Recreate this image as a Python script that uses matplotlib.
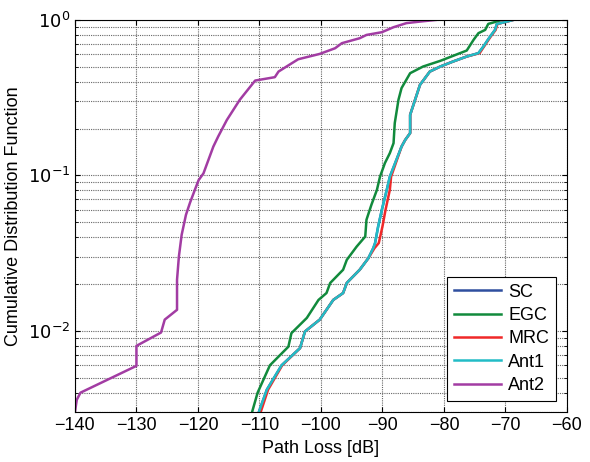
import matplotlib.pyplot as plt
import numpy as np

plt.rcParams['font.family'] = ['Liberation Sans', 'DejaVu Sans']

# Values (path loss in dB, CDF)
ant2_x = [-140.0, -139.7, -139.1, -130.0, -130.0, -126.0, -125.4, -123.4, -123.4,
          -123.1, -122.65, -121.95, -121.3, -120.5, -119.9, -119.1, -117.5, -116.7,
          -115.3, -113.2, -110.7, -107.5, -106.9, -105.6, -103.7, -100.2, -97.7,
          -96.6, -93.7, -92.6, -90.1, -88.2, -86.1, -83.9, -81.2]
ant2_y = [0.003, 0.0036, 0.0040, 0.00595, 0.0080, 0.00975, 0.0118, 0.01365, 0.0213,
          0.030, 0.0414, 0.0557, 0.0665, 0.0807, 0.093, 0.103, 0.153, 0.178,
          0.227, 0.306, 0.407, 0.428, 0.465, 0.501, 0.558, 0.604, 0.657,
          0.708, 0.762, 0.80, 0.833, 0.897, 0.953, 0.975, 1.0]

egc_x = [-111.2, -110.3, -108.3, -105.3, -104.8, -102.3, -100.4, -99.1, -98.5,
         -96.4, -95.8, -94.2, -92.8, -92.6, -91.8, -90.9, -90.4, -89.6, -88.8,
         -88.2, -88.0, -87.4, -86.9, -85.5, -83.4, -80.6, -76.3, -75.2, -74.4,
         -73.3, -72.8, -72.0, -70.6]
egc_y = [0.003, 0.0040, 0.0060, 0.0079, 0.00966, 0.0121, 0.0158, 0.0175, 0.0203,
         0.0247, 0.0286, 0.0348, 0.0404, 0.0518, 0.0646, 0.0807, 0.098, 0.120, 0.139,
         0.161, 0.217, 0.306, 0.364, 0.454, 0.501, 0.545, 0.635, 0.743, 0.821,
         0.862, 0.942, 0.961, 1.0]

ant1_x = [-110.1, -108.8, -106.4, -103.4, -102.6, -100.2, -98.0, -96.4, -95.8,
          -95.3, -93.7, -92.3, -91.5, -91.2, -90.7, -90.1, -89.3, -88.8, -86.9,
          -86.3, -85.5, -85.5, -84.7, -83.9, -82.3, -80.6, -78.5, -76.3, -74.4,
          -73.6, -72.5, -71.7, -71.4, -70.4, -68.7]
ant1_y = [0.003, 0.00418, 0.0060, 0.00774, 0.0099, 0.0118, 0.0158, 0.0175, 0.0203,
          0.0213, 0.0247, 0.0293, 0.034, 0.0367, 0.0469, 0.060, 0.0807, 0.098, 0.153,
          0.169, 0.187, 0.245, 0.306, 0.382, 0.465, 0.501, 0.540, 0.581, 0.611,
          0.673, 0.781, 0.862, 0.942, 0.961, 1.0]

mrc_x = [-109.8, -108.6, -106.3, -103.4, -102.6, -100.2, -98.0, -96.4, -95.8,
         -95.3, -93.7, -92.3, -91.3, -90.6, -90.0, -89.5, -88.8, -88.6, -86.9,
         -86.3, -85.5, -85.5, -84.7, -83.9, -82.3, -80.6, -78.5, -76.3, -74.2,
         -73.5, -72.4, -71.6, -71.3, -70.4, -68.7]
mrc_y = ant1_y

sc_x = ant1_x
sc_y = ant1_y

fig = plt.figure(figsize=(5.9, 4.62), dpi=100)
ax = fig.add_axes([0.127, 0.108, 0.834, 0.849])

ax.plot(sc_x, sc_y, color='#2f4f9f', lw=1.8, label='SC')
ax.plot(egc_x, egc_y, color='#118a3c', lw=1.8, label='EGC')
ax.plot(mrc_x, mrc_y, color='#f02828', lw=1.8, label='MRC')
ax.plot(ant1_x, ant1_y, color='#22bcc6', lw=1.8, label='Ant1')
ax.plot(ant2_x, ant2_y, color='#a23ca3', lw=1.8, label='Ant2')

ax.set_yscale('log')
ax.set_xlim(-140, -60)
ax.set_ylim(0.003, 1)
ax.set_xticks(np.arange(-140, -59, 10))
ax.set_yticks([1e-2, 1e-1, 1e0])
ax.set_yticklabels(['$10^{-2}$', '$10^{-1}$', '$10^{0}$'])

# matlab-like grid: vertical at majors, horizontal at every log tick
ax.grid(True, which='major', color='0.4', linestyle=(0, (1, 1)), lw=0.8)
ax.grid(True, which='minor', axis='y', color='0.4', linestyle=(0, (1, 1)), lw=0.8)
ax.tick_params(which='both', direction='in', top=True, right=True, labelsize=13)
ax.tick_params(axis='y', which='minor', labelleft=False)

ax.set_xlabel('Path Loss [dB]', fontsize=13)
ax.set_ylabel('Cumulative Distribution Function', fontsize=13)

leg = ax.legend(loc='lower right', fontsize=13, fancybox=False, framealpha=1,
                edgecolor='black', handlelength=2.6, borderaxespad=0.6,
                labelspacing=0.35, handletextpad=0.4)
leg.get_frame().set_linewidth(0.8)

fig.savefig('out.png', dpi=100)
